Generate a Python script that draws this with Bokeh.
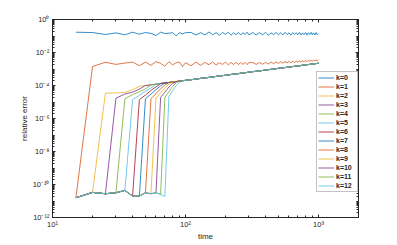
import numpy as np
from bokeh.plotting import figure
from bokeh.models import (FixedTicker, LogAxis, CustomJSTickFormatter,
                          Legend, LegendItem, Range1d)
from bokeh.embed import file_html
from bokeh.resources import INLINE

# ---------------- data (log10 of relative error) ----------------
TIME = [15, 20, 25, 30, 35, 40, 45, 50, 55, 60, 65, 70, 75, 80, 85, 90, 95, 100,
        110, 120, 130, 140, 150, 160, 170, 180, 190, 200, 210, 220, 230, 240, 250,
        260, 270, 280, 290, 300,
        320, 340, 360, 380, 400, 420, 440, 460, 480, 500, 520, 540, 560, 580, 600,
        620, 640, 660, 680, 700, 720, 740, 760, 780, 800, 820, 840, 860, 880, 900,
        920, 940, 960, 980, 1000]

K0_LOG = [-0.77, -0.79, -0.91, -0.81, -0.93, -0.77, -0.89, -0.79, -0.84, -0.97,
          -0.77, -0.85, -0.83, -0.80, -0.99, -0.80, -0.87, -0.80,
          -0.78, -0.94, -0.80, -0.93, -0.76, -0.92, -0.80, -0.96, -0.79, -0.90,
          -0.77, -0.95, -0.81, -0.92, -0.78, -0.94, -0.80, -0.91, -0.77, -0.93,
          -0.79, -0.94, -0.80, -0.92, -0.78, -0.95, -0.81, -0.91, -0.79, -0.93,
          -0.80, -0.94, -0.78, -0.92, -0.81, -0.95, -0.79, -0.91, -0.80, -0.93,
          -0.78, -0.94, -0.81, -0.92, -0.79, -0.95, -0.80, -0.91, -0.78, -0.93,
          -0.81, -0.94, -0.79, -0.92, -0.86]

# common low plateau (t = 15 ... 70)
BOTTOM_LOG = [-10.80, -10.48, -10.56, -10.50, -10.36, -10.70, -10.70, -10.50,
              -10.56, -10.50, -10.60, -10.72]

# k=1 after its jump (t = 20 ... 1000)
K1_LOG = [-2.85, -2.59, -2.72, -2.64, -2.58, -2.80, -2.58, -2.78, -2.55, -2.66,
          -2.83, -2.56, -2.75, -2.62, -2.58, -2.85, -2.62,
          -2.80, -2.58, -2.78, -2.60, -2.74, -2.57, -2.76, -2.62, -2.72, -2.58,
          -2.75, -2.60, -2.73, -2.59, -2.74, -2.61, -2.72, -2.60, -2.73, -2.62,
          -2.60, -2.72, -2.61, -2.71, -2.60, -2.70, -2.58, -2.68, -2.57, -2.66,
          -2.56, -2.65, -2.55, -2.63, -2.54, -2.62, -2.53, -2.61, -2.52, -2.59,
          -2.51, -2.58, -2.50, -2.56, -2.49, -2.55, -2.48, -2.53, -2.47, -2.52,
          -2.46, -2.50, -2.45, -2.49, -2.44]

# shared upper branch for k >= 2 (t = 25 ... 1000)
TAIL_LOG = [-4.32, -4.23, -4.16, -4.10, -4.05, -4.00, -3.96, -3.92, -3.88, -3.85,
            -3.82, -3.79, -3.76, -3.74, -3.71, -3.69,
            -3.65, -3.61, -3.57, -3.54, -3.51, -3.48, -3.45, -3.42, -3.40, -3.38,
            -3.36, -3.33, -3.31, -3.29, -3.28, -3.26, -3.24, -3.23, -3.21, -3.19,
            -3.16, -3.14, -3.11, -3.09, -3.06, -3.04, -3.02, -3.00, -2.98, -2.96,
            -2.95, -2.93, -2.91, -2.90, -2.88, -2.87, -2.85, -2.84, -2.82, -2.81,
            -2.80, -2.79, -2.77, -2.76, -2.75, -2.74, -2.73, -2.72, -2.71, -2.70,
            -2.69, -2.68, -2.67, -2.66, -2.65]

# values right after each jump, k = 2 ... 12
JUMP_LOG = {
    2: [-4.46, -4.45, -4.42, -4.25],
    3: [-4.77, -4.52, -4.40, -4.22],
    4: [-4.80, -4.55, -4.38, -4.20],
    5: [-4.86, -4.60, -4.35, -4.15],
    6: [-4.86, -4.58, -4.30, -4.08],
    7: [-4.80, -4.52, -4.25, -4.02],
    8: [-4.80, -4.50, -4.20, -3.98],
    9: [-4.76, -4.45, -4.15, -3.93],
    10: [-4.72, -4.40, -4.10, -3.88],
    11: [-4.72, -4.38, -4.06, -3.84],
    12: [-4.68, -4.32, -4.02, -3.82],
}

LABELS = ["k=%d" % k for k in range(13)]
COLORS = ["#0072BD", "#D95319", "#EDB120", "#7E2F8E", "#77AC30", "#4DBEEE",
          "#A2142F", "#0072BD", "#D95319", "#EDB120", "#7E2F8E", "#77AC30",
          "#4DBEEE"]

# ---------------- build series ----------------
series = [K0_LOG, [BOTTOM_LOG[0]] + K1_LOG]
for k in range(2, 13):
    s = BOTTOM_LOG[:k] + JUMP_LOG[k]
    s = s + TAIL_LOG[len(s) - 2:]
    series.append(s)

FONT = "Liberation Sans"
AX = "#262626"

W, H = 397, 245
p = figure(width=W, height=H, x_axis_type="log", y_axis_type="log",
           x_range=Range1d(10, 2000), y_range=Range1d(1e-12, 1),
           output_backend="svg", toolbar_location=None,
           min_border_left=52, min_border_right=39, min_border_top=19,
           min_border_bottom=28)
p.grid.visible = False
p.outline_line_color = AX
p.background_fill_color = "white"

x_minor = [m * 10 ** d for d in (1, 2, 3) for m in range(1, 10)]
y_minor = [m * 10.0 ** d for d in range(-12, 1) for m in range(1, 10)]

fmt_code = """
const e = Math.round(Math.log10(tick));
const sup = {"-":"\u207b","0":"\u2070","1":"\u00b9","2":"\u00b2","3":"\u00b3","4":"\u2074",
             "5":"\u2075","6":"\u2076","7":"\u2077","8":"\u2078","9":"\u2079"};
return "10" + String(e).split("").map(c => sup[c]).join("");
"""


def style(ax, ticker, labels=True):
    ax.ticker = ticker
    ax.axis_line_color = AX
    ax.axis_line_width = 1
    ax.major_tick_line_color = AX
    ax.minor_tick_line_color = AX
    ax.major_tick_in = 3
    ax.major_tick_out = 0
    ax.minor_tick_in = 2
    ax.minor_tick_out = 0
    ax.major_label_text_font = FONT
    ax.major_label_text_font_size = "7.5px"
    ax.major_label_text_color = AX
    ax.axis_label_text_font = FONT
    ax.axis_label_text_font_size = "8px"
    ax.axis_label_text_font_style = "normal"
    ax.axis_label_text_color = AX
    if labels:
        ax.formatter = CustomJSTickFormatter(code=fmt_code)
        ax.major_label_standoff = 3
    else:
        ax.formatter = CustomJSTickFormatter(code="return '';")
        ax.major_label_standoff = 0


style(p.xaxis[0], FixedTicker(ticks=[10, 100, 1000], minor_ticks=x_minor))
style(p.yaxis[0], FixedTicker(ticks=[10.0 ** e for e in range(-12, 1, 2)], minor_ticks=y_minor))
p.xaxis[0].axis_label = "time"
p.xaxis[0].major_label_standoff = 2
p.xaxis[0].axis_label_standoff = 0
p.yaxis[0].axis_label = "relative error"
p.yaxis[0].axis_label_standoff = 1

top = LogAxis()
right = LogAxis()
style(top, FixedTicker(ticks=[10, 100, 1000], minor_ticks=x_minor), labels=False)
style(right, FixedTicker(ticks=[10.0 ** e for e in range(-12, 1, 2)], minor_ticks=y_minor), labels=False)
p.add_layout(top, "above")
p.add_layout(right, "right")

items = []
for k, s in enumerate(series):
    t = TIME[:len(s)]
    r = p.line(t, 10.0 ** np.array(s), line_color=COLORS[k], line_width=1,
               line_alpha=0.8)
    items.append(LegendItem(label=LABELS[k], renderers=[r]))

legend = Legend(items=items, location=(264, 25), orientation="vertical",
                label_text_font=FONT, label_text_font_size="7px",
                label_text_font_style="bold", label_text_color=AX,
                glyph_width=16, glyph_height=9, label_height=9, label_standoff=2,
                spacing=0, padding=1, margin=0,
                border_line_color="#888888", border_line_width=1,
                background_fill_color="white", background_fill_alpha=1)
p.add_layout(legend)

open("out.html", "w").write(file_html(p, INLINE))
